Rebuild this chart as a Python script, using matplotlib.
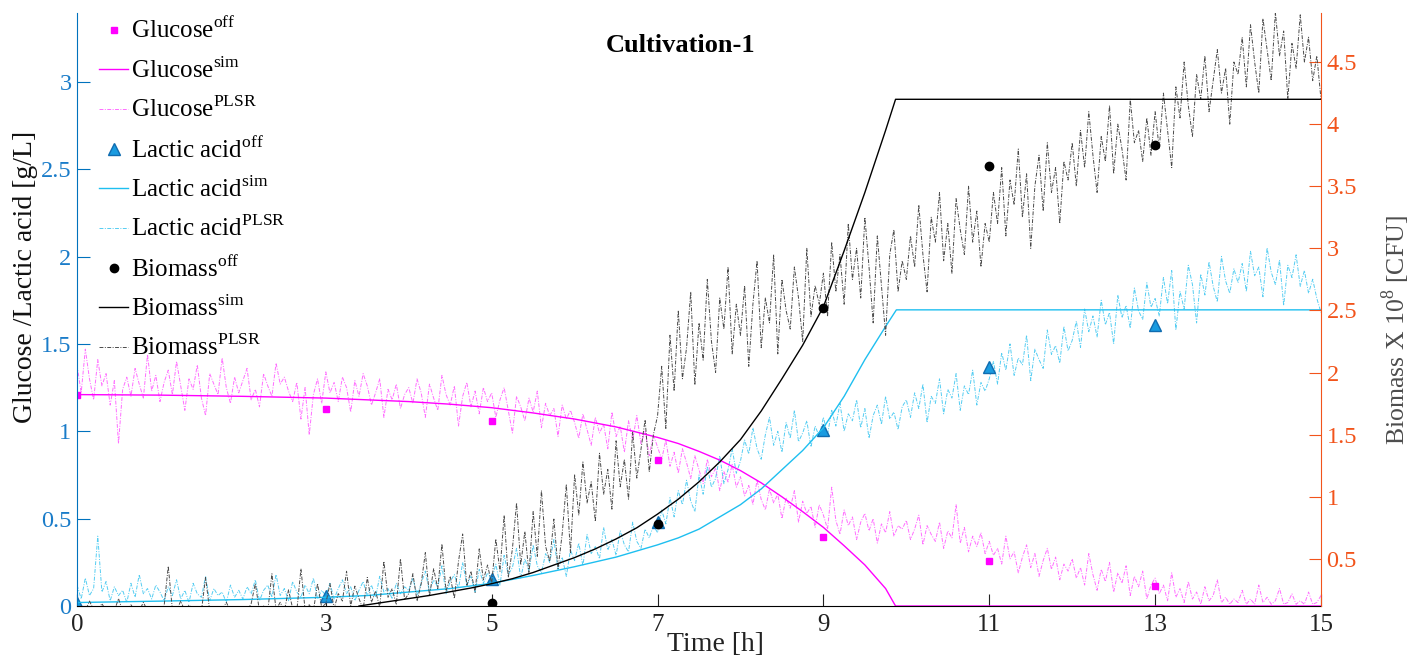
import matplotlib
matplotlib.use('Agg')
import matplotlib.pyplot as plt
import numpy as np

plt.rcParams['font.family'] = ['Liberation Serif', 'DejaVu Serif']
plt.rcParams['mathtext.fontset'] = 'custom'
plt.rcParams['mathtext.rm'] = 'Liberation Serif'

# off-line samples
t_off = [0, 3, 5, 7, 9, 11, 13]
glucose_off = [1.21, 1.13, 1.06, 0.835, 0.395, 0.26, 0.115]
lactic_off = [0.015, 0.055, 0.155, 0.48, 1.01, 1.37, 1.61]
t_bio_off = [5, 7, 9, 11, 13]
biomass_off = [0.145, 0.78, 2.52, 3.66, 3.83]

# simulated curves
t_glc_sim = [0, 1, 2, 3, 4, 4.5, 5, 5.5, 6, 6.5, 7, 7.25, 7.5, 7.75, 8, 8.25,
             8.5, 8.75, 9, 9.25, 9.5, 9.75, 9.87, 15]
glucose_sim = [1.21, 1.207, 1.20, 1.19, 1.17, 1.155, 1.135, 1.105, 1.07, 1.025,
               0.965, 0.93, 0.885, 0.835, 0.775, 0.705, 0.625, 0.54, 0.45,
               0.345, 0.235, 0.10, 0.0, 0.0]
t_lac_sim = [0, 1, 2, 3, 3.5, 4, 4.5, 5, 5.5, 6, 6.5, 7, 7.25, 7.5, 7.75, 8,
             8.25, 8.5, 8.75, 9, 9.25, 9.5, 9.75, 9.88, 15]
lactic_sim = [0.02, 0.028, 0.037, 0.05, 0.06, 0.08, 0.10, 0.13, 0.175, 0.225,
              0.28, 0.35, 0.39, 0.44, 0.51, 0.58, 0.67, 0.78, 0.89, 1.02,
              1.20, 1.41, 1.60, 1.695, 1.695]
t_bio_sim = [3.4, 3.5, 3.75, 4, 4.25, 4.5, 4.75, 5, 5.25, 5.5, 5.75, 6, 6.25,
             6.5, 6.75, 7, 7.25, 7.5, 7.75, 8, 8.25, 8.5, 8.75, 9, 9.25, 9.5,
             9.75, 9.87, 15]
biomass_sim = [0.12, 0.13, 0.155, 0.18, 0.205, 0.235, 0.265, 0.30, 0.34, 0.39,
               0.45, 0.51, 0.58, 0.66, 0.75, 0.86, 0.98, 1.12, 1.28, 1.46,
               1.69, 1.95, 2.22, 2.53, 2.98, 3.45, 3.95, 4.2, 4.2]

# PLSR predictions, one row per hour, every 0.05 h
glucose_plsr = [
    1.38, 1.22, 1.47, 1.30, 1.18, 1.41, 1.26, 1.33, 1.15, 1.29, 0.93, 1.24, 1.31, 1.20, 1.36, 1.27, 1.19, 1.44, 1.23, 1.32,
    1.17, 1.28, 1.35, 1.21, 1.40, 1.26, 1.12, 1.30, 1.24, 1.38, 1.19, 1.09, 1.33, 1.27, 1.21, 1.42, 1.25, 1.16, 1.31, 1.22,
    1.29, 1.36, 1.18, 1.24, 1.14, 1.33, 1.26, 1.20, 1.39, 1.27, 1.31, 1.23, 1.17, 1.28, 1.07, 1.25, 0.98, 1.21, 1.30, 1.16,
    1.34, 1.22, 1.28, 1.17, 1.31, 1.25, 1.11, 1.29, 1.20, 1.33, 1.26, 1.15, 1.22, 1.30, 1.08, 1.24, 1.18, 1.27, 1.13, 1.21,
    1.25, 1.16, 1.30, 1.22, 1.08, 1.27, 1.19, 1.12, 1.32, 1.21, 1.15, 1.26, 1.03, 1.20, 1.28, 1.14, 1.23, 1.10, 1.25, 1.17,
    1.22, 1.08, 1.18, 1.25, 1.12, 0.99, 1.20, 1.14, 1.06, 1.19, 1.11, 1.23, 1.02, 1.16, 1.09, 1.13, 0.97, 1.15, 1.07, 1.12,
    1.05, 0.96, 1.10, 1.01, 0.92, 1.08, 0.99, 1.04, 0.90, 1.11, 0.97, 1.03, 0.88, 1.06, 0.95, 1.09, 0.93, 1.00, 0.86, 0.98,
    0.91, 0.84, 0.95, 0.80, 0.88, 0.76, 0.90, 0.82, 0.73, 0.86, 0.78, 0.70, 0.84, 0.74, 0.79, 0.66, 0.77, 0.71, 0.81, 0.68,
    0.74, 0.63, 0.69, 0.58, 0.72, 0.61, 0.55, 0.67, 0.59, 0.64, 0.50, 0.62, 0.56, 0.66, 0.48, 0.60, 0.53, 0.57, 0.45, 0.58,
    0.52, 0.44, 0.68, 0.49, 0.41, 0.55, 0.46, 0.51, 0.38, 0.48, 0.53, 0.43, 0.50, 0.36, 0.47, 0.42, 0.54, 0.40, 0.46, 0.44,
    0.49, 0.38, 0.44, 0.52, 0.35, 0.46, 0.41, 0.37, 0.48, 0.33, 0.43, 0.39, 0.58, 0.36, 0.45, 0.31, 0.40, 0.34, 0.42, 0.30,
    0.37, 0.29, 0.33, 0.24, 0.40, 0.27, 0.31, 0.19, 0.28, 0.35, 0.22, 0.30, 0.17, 0.26, 0.33, 0.21, 0.28, 0.15, 0.24, 0.20,
    0.27, 0.16, 0.22, 0.12, 0.30, 0.18, 0.09, 0.21, 0.14, 0.25, 0.08, 0.19, 0.13, 0.23, 0.06, 0.17, 0.11, 0.20, 0.04, 0.12,
    0.16, 0.07, 0.12, 0.03, 0.19, 0.05, 0.10, 0.02, 0.14, 0.04, 0.08, 0.01, 0.11, 0.03, 0.06, 0.15, 0.02, 0.05, 0.01, 0.04,
    0.02, 0.09, 0.01, 0.04, 0.01, 0.12, 0.02, 0.05, 0.01, 0.03, 0.10, 0.01, 0.02, 0.07, 0.01, 0.03, 0.01, 0.08, 0.01, 0.02,
    0.06]
lactic_plsr = [
    0.12, 0.04, 0.16, 0.06, 0.10, 0.40, 0.08, 0.14, 0.03, 0.11, 0.06, 0.09, 0.02, 0.13, 0.05, 0.18, 0.07, 0.10, 0.04, 0.12,
    0.08, 0.03, 0.11, 0.06, 0.15, 0.04, 0.09, 0.02, 0.13, 0.07, 0.05, 0.17, 0.03, 0.10, 0.06, 0.08, 0.02, 0.12, 0.05, 0.09,
    0.04, 0.11, 0.07, 0.15, 0.03, 0.09, 0.12, 0.05, 0.18, 0.06, 0.10, 0.03, 0.14, 0.08, 0.05, 0.12, 0.07, 0.16, 0.04, 0.09,
    0.06, 0.13, 0.04, 0.10, 0.15, 0.07, 0.11, 0.03, 0.09, 0.14, 0.06, 0.12, 0.05, 0.17, 0.08, 0.10, 0.04, 0.13, 0.07, 0.11,
    0.09, 0.16, 0.06, 0.13, 0.20, 0.08, 0.15, 0.11, 0.23, 0.07, 0.14, 0.18, 0.10, 0.25, 0.12, 0.17, 0.08, 0.21, 0.13, 0.19,
    0.15, 0.24, 0.12, 0.29, 0.18, 0.22, 0.33, 0.16, 0.27, 0.20, 0.35, 0.23, 0.19, 0.30, 0.25, 0.38, 0.21, 0.28, 0.17, 0.32,
    0.26, 0.36, 0.23, 0.41, 0.30, 0.34, 0.27, 0.45, 0.32, 0.38, 0.29, 0.43, 0.35, 0.31, 0.48, 0.37, 0.33, 0.44, 0.39, 0.46,
    0.42, 0.55, 0.47, 0.62, 0.51, 0.66, 0.58, 0.72, 0.60, 0.54, 0.75, 0.64, 0.80, 0.68, 0.73, 0.86, 0.70, 0.78, 0.90, 0.76,
    0.83, 0.95, 0.87, 1.02, 0.90, 0.84, 0.98, 1.08, 0.92, 1.00, 0.88, 1.05, 0.96, 1.12, 0.94, 0.99, 1.06, 0.91, 1.03, 0.97,
    1.08, 0.98, 1.12, 1.03, 1.16, 1.00, 1.10, 1.06, 1.18, 1.02, 1.13, 0.96, 1.09, 1.15, 1.04, 1.20, 1.07, 1.11, 1.01, 1.14,
    1.18, 1.08, 1.22, 1.13, 1.27, 1.05, 1.20, 1.16, 1.30, 1.10, 1.24, 1.19, 1.33, 1.12, 1.26, 1.21, 1.35, 1.15, 1.28, 1.23,
    1.30, 1.40, 1.27, 1.45, 1.35, 1.50, 1.32, 1.42, 1.38, 1.55, 1.29, 1.47, 1.41, 1.36, 1.58, 1.44, 1.49, 1.39, 1.60, 1.46,
    1.52, 1.63, 1.48, 1.70, 1.57, 1.66, 1.54, 1.75, 1.61, 1.68, 1.50, 1.78, 1.65, 1.72, 1.59, 1.82, 1.69, 1.64, 1.85, 1.71,
    1.76, 1.66, 1.88, 1.73, 1.92, 1.58, 1.80, 1.70, 1.95, 1.84, 1.62, 1.90, 1.78, 1.97, 1.83, 1.74, 2.00, 1.86, 1.79, 1.93,
    1.85, 1.96, 1.80, 2.03, 1.89, 1.94, 1.77, 2.05, 1.91, 1.84, 1.98, 1.72, 1.95, 1.88, 2.01, 1.83, 1.92, 1.79, 1.87, 1.76,
    1.68]
biomass_plsr = [
    0.08, 0.12, 0.08, 0.16, 0.09, 0.08, 0.14, 0.08, 0.10, 0.08, 0.18, 0.08, 0.09, 0.13, 0.08, 0.08, 0.15, 0.08, 0.11, 0.08,
    0.08, 0.12, 0.44, 0.09, 0.08, 0.16, 0.08, 0.13, 0.08, 0.10, 0.08, 0.35, 0.08, 0.12, 0.08, 0.09, 0.15, 0.08, 0.11, 0.08,
    0.10, 0.08, 0.14, 0.30, 0.08, 0.12, 0.08, 0.38, 0.09, 0.15, 0.08, 0.25, 0.10, 0.08, 0.42, 0.09, 0.13, 0.08, 0.30, 0.11,
    0.14, 0.30, 0.10, 0.22, 0.16, 0.40, 0.12, 0.28, 0.18, 0.09, 0.35, 0.15, 0.24, 0.11, 0.48, 0.19, 0.26, 0.13, 0.50, 0.17,
    0.22, 0.38, 0.16, 0.30, 0.55, 0.20, 0.42, 0.26, 0.62, 0.24, 0.36, 0.18, 0.48, 0.70, 0.28, 0.40, 0.23, 0.58, 0.33, 0.45,
    0.30, 0.66, 0.40, 0.85, 0.35, 0.58, 0.95, 0.45, 0.72, 0.38, 0.88, 0.52, 1.05, 0.60, 0.48, 0.82, 0.42, 0.70, 1.10, 0.55,
    1.18, 0.85, 1.28, 0.95, 1.12, 0.80, 1.35, 1.02, 1.22, 0.90, 1.45, 1.08, 1.30, 0.98, 1.52, 1.15, 1.38, 1.62, 1.20, 1.50,
    1.65, 2.05, 1.55, 2.30, 1.85, 2.50, 1.95, 2.20, 2.65, 1.90, 2.40, 2.10, 2.75, 2.25, 2.00, 2.60, 2.35, 2.85, 2.15, 2.55,
    2.30, 2.70, 2.05, 2.55, 2.90, 2.20, 2.60, 2.40, 2.95, 2.15, 2.75, 2.50, 2.35, 2.85, 2.60, 2.25, 3.00, 2.45, 2.70, 2.55,
    2.80, 2.45, 3.05, 2.65, 2.95, 2.55, 3.20, 2.75, 3.00, 2.60, 3.25, 2.85, 2.40, 3.10, 2.70, 2.30, 2.95, 3.15, 2.65, 2.90,
    2.75, 3.10, 2.85, 3.35, 2.95, 2.65, 3.25, 3.05, 3.45, 2.90, 3.20, 2.80, 3.40, 3.15, 2.95, 3.50, 3.05, 3.30, 2.85, 3.20,
    3.05, 3.45, 3.20, 3.65, 3.10, 3.55, 3.35, 3.80, 3.25, 3.60, 3.00, 3.50, 3.75, 3.30, 3.85, 3.45, 3.65, 3.20, 3.70, 3.55,
    3.85, 3.50, 3.95, 3.65, 4.10, 3.75, 3.45, 3.90, 3.70, 4.15, 3.60, 4.00, 3.80, 3.55, 4.20, 3.85, 3.95, 3.70, 4.05, 3.75,
    4.10, 3.80, 4.25, 3.95, 3.65, 4.30, 4.05, 4.50, 4.15, 3.90, 4.40, 4.20, 4.55, 4.10, 4.35, 4.60, 4.25, 4.45, 4.00, 4.50,
    4.40, 4.70, 4.30, 4.80, 4.50, 4.25, 4.85, 4.60, 4.35, 4.90, 4.55, 4.75, 4.20, 4.65, 4.45, 4.88, 4.50, 4.70, 4.35, 4.55,
    4.20]

x_ticks = [0, 3, 5, 7, 9, 11, 13, 15]
left_ticks = [0, 0.5, 1, 1.5, 2, 2.5, 3]
right_ticks = [0.5, 1, 1.5, 2, 2.5, 3, 3.5, 4, 4.5]

blue = '#0072BD'
orange = '#F2541B'
dashdot = (0, (4, 1.5, 1, 1.5))


def plsr_time(values):
    return np.arange(len(values)) * 0.05


fig = plt.figure(figsize=(14.16, 6.59), dpi=100)
ax = fig.add_axes([0.0544, 0.0804, 0.8785, 0.8999])
ax2 = ax.twinx()

h3, = ax.plot(plsr_time(glucose_plsr), glucose_plsr, color='#FF6EFF', lw=0.7, ls=dashdot,
              label=r'Glucose$^{\mathrm{PLSR}}$')
h6, = ax.plot(plsr_time(lactic_plsr), lactic_plsr, color='#55CDF2', lw=0.7, ls=dashdot,
              label=r'Lactic acid$^{\mathrm{PLSR}}$')
h1, = ax.plot(t_off, glucose_off, 's', color='#FF00FF', ms=5, ls='none', label=r'Glucose$^{\mathrm{off}}$')
h2, = ax.plot(t_glc_sim, glucose_sim, '-', color='#FF00FF', lw=1.0, label=r'Glucose$^{\mathrm{sim}}$')
h4, = ax.plot(t_off, lactic_off, '^', color='#1A9BE0', mec='#106CB0', ms=8, ls='none',
              label=r'Lactic acid$^{\mathrm{off}}$')
h5, = ax.plot(t_lac_sim, lactic_sim, '-', color='#1EBFF0', lw=1.0, label=r'Lactic acid$^{\mathrm{sim}}$')

h9, = ax2.plot(plsr_time(biomass_plsr), biomass_plsr, color='#4A4A4A', lw=0.7, ls=dashdot,
               label=r'Biomass$^{\mathrm{PLSR}}$')
h7, = ax2.plot(t_bio_off, biomass_off, 'o', color='black', ms=6, ls='none', label=r'Biomass$^{\mathrm{off}}$')
h8, = ax2.plot(t_bio_sim, biomass_sim, '-', color='black', lw=1.0, label=r'Biomass$^{\mathrm{sim}}$')

ax.set_xlim(0, 15)
ax.set_ylim(0, 3.394)
ax2.set_ylim(0.12, 4.895)
ax.set_xticks(x_ticks)
ax.set_yticks(left_ticks)
ax.set_yticklabels([f'{v:g}' for v in left_ticks])
ax2.set_yticks(right_ticks)
ax2.set_yticklabels([f'{v:g}' for v in right_ticks])

for a in (ax, ax2):
    a.spines['top'].set_visible(False)
ax.spines['right'].set_visible(False)
ax2.spines['left'].set_visible(False)
ax2.spines['bottom'].set_visible(False)
ax.spines['left'].set_color(blue)
ax2.spines['right'].set_color(orange)
ax.spines['bottom'].set_color('black')

ax.tick_params(axis='x', direction='in', length=9, labelsize=18, colors='#222222', pad=6)
ax.tick_params(axis='y', direction='in', length=9, labelsize=17.5, colors=blue,
               labelcolor='#1A7CC9', pad=4)
ax2.tick_params(axis='y', direction='in', length=9, labelsize=17.5, colors=orange, pad=4)

ax.set_xlabel('Time [h]', fontsize=20, color='#222222')
ax.xaxis.set_label_coords(0.513, -0.043)
ax.set_ylabel('Glucose /Lactic acid [g/L]', fontsize=20, color='#111111')
ax.yaxis.set_label_coords(-0.031, 0.555)
ax2.set_ylabel(r'Biomass X 10$^{8}$ [CFU]', fontsize=18.5, color='#4D4D4D')
ax2.yaxis.set_label_coords(1.047, 0.465)

ax.text(0.485, 0.946, 'Cultivation-1', transform=ax.transAxes, ha='center', va='center',
        fontsize=19, fontweight='bold')

ax.legend(handles=[h1, h2, h3, h4, h5, h6, h7, h8, h9], loc='upper left',
          bbox_to_anchor=(0.01, 1.01), frameon=False, fontsize=18,
          handlelength=1.15, handletextpad=0.12, labelspacing=0.55, borderaxespad=0)

fig.savefig('out.png', dpi=100)
